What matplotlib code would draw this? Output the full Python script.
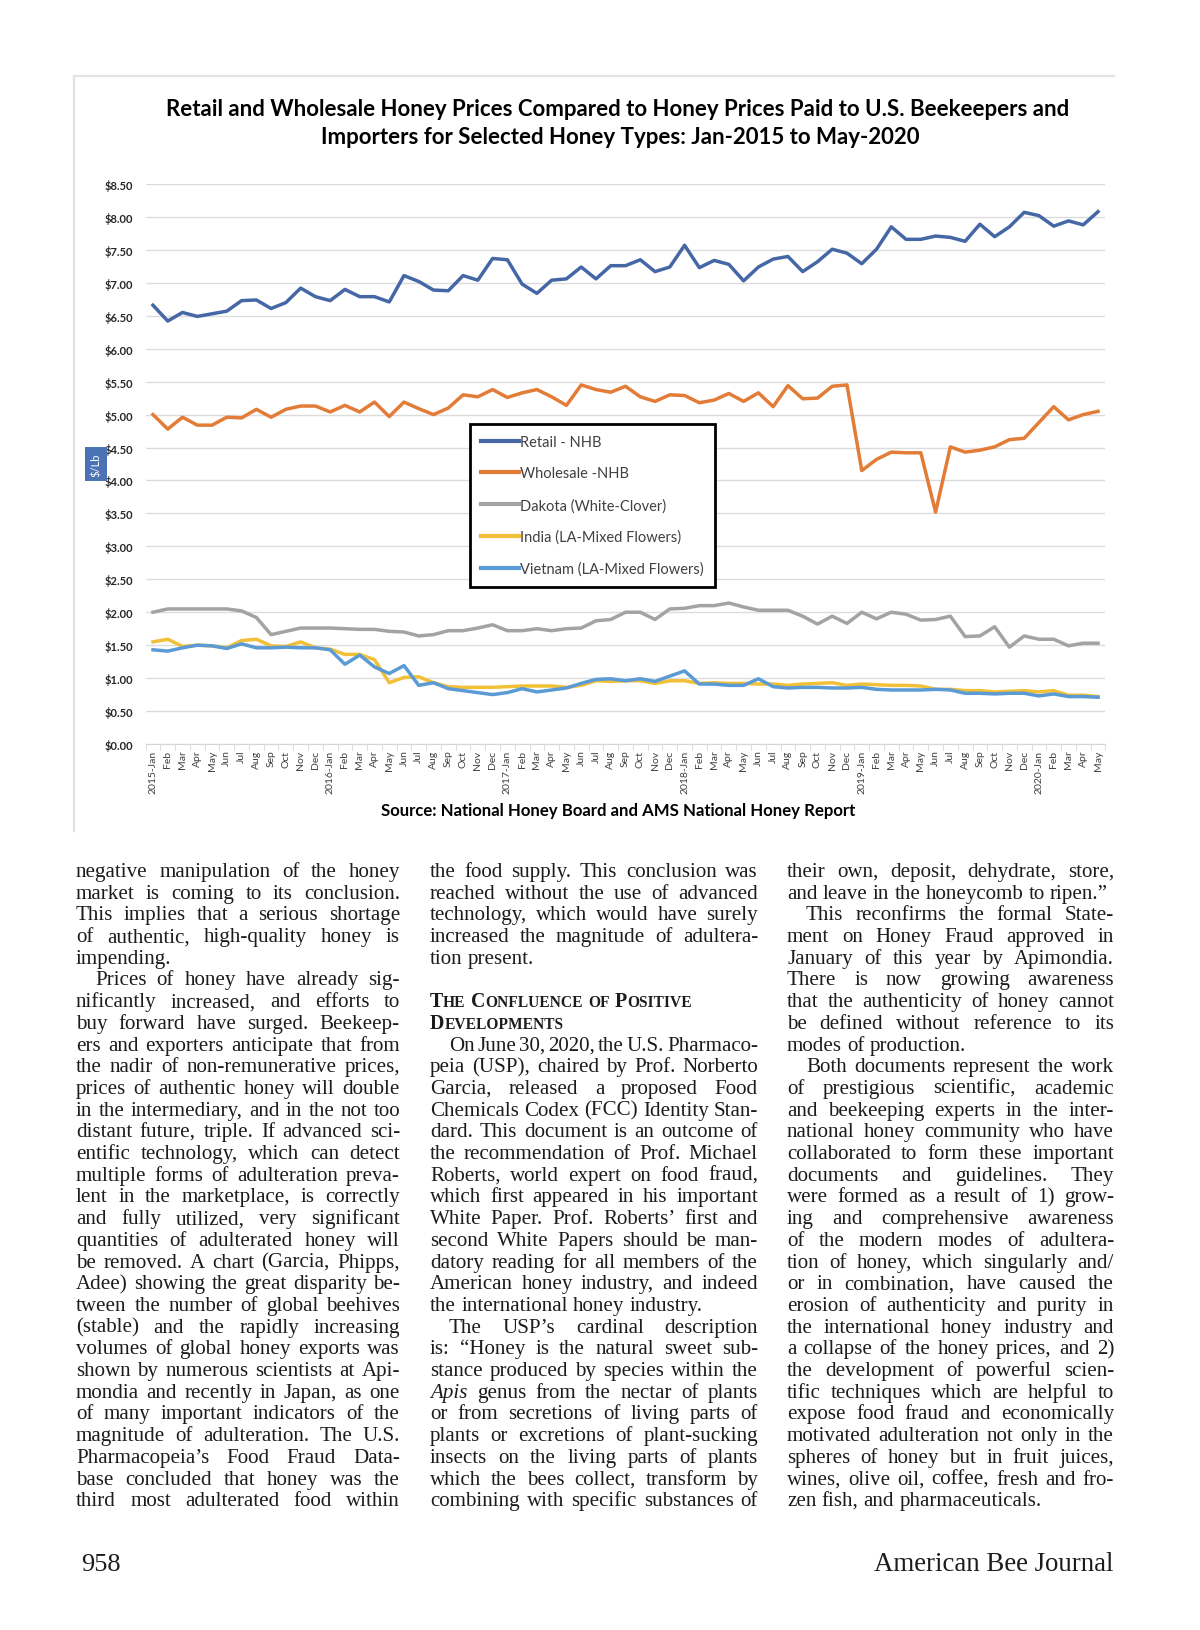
import matplotlib
matplotlib.use("Agg")
import matplotlib.pyplot as plt
from matplotlib.lines import Line2D
import numpy as np

# ---- chart data (US$/lb), Jan-2015 .. May-2020 ----
month_names = ["Jan", "Feb", "Mar", "Apr", "May", "Jun",
               "Jul", "Aug", "Sep", "Oct", "Nov", "Dec"]
years = [2015, 2016, 2017, 2018, 2019, 2020]
n_last_year = 5

retail = [6.66, 6.42, 6.55, 6.49, 6.53, 6.57, 6.73, 6.74, 6.61, 6.70, 6.92, 6.79,
          6.73, 6.90, 6.79, 6.79, 6.71, 7.11, 7.02, 6.89, 6.88, 7.11, 7.04, 7.37,
          7.35, 6.98, 6.84, 7.04, 7.06, 7.24, 7.06, 7.26, 7.26, 7.35, 7.17, 7.24,
          7.57, 7.23, 7.34, 7.28, 7.03, 7.24, 7.36, 7.40, 7.17, 7.32, 7.51, 7.45,
          7.29, 7.51, 7.85, 7.66, 7.66, 7.71, 7.69, 7.63, 7.89, 7.70, 7.85, 8.07,
          8.02, 7.86, 7.94, 7.88, 8.08]
wholesale = [5.00, 4.78, 4.96, 4.84, 4.84, 4.96, 4.95, 5.08, 4.96, 5.08, 5.13, 5.13,
             5.04, 5.14, 5.04, 5.19, 4.97, 5.19, 5.09, 5.00, 5.10, 5.30, 5.27, 5.38,
             5.26, 5.33, 5.38, 5.27, 5.14, 5.45, 5.38, 5.34, 5.43, 5.27, 5.20, 5.30,
             5.29, 5.18, 5.22, 5.32, 5.20, 5.33, 5.12, 5.44, 5.24, 5.25, 5.43, 5.45,
             4.15, 4.32, 4.43, 4.42, 4.42, 3.52, 4.51, 4.43, 4.46, 4.51, 4.62, 4.64,
             4.88, 5.12, 4.92, 5.00, 5.05]
dakota = [2.00, 2.05, 2.05, 2.05, 2.05, 2.05, 2.02, 1.92, 1.66, 1.71, 1.76, 1.76,
          1.76, 1.75, 1.74, 1.74, 1.71, 1.70, 1.64, 1.66, 1.72, 1.72, 1.76, 1.81,
          1.72, 1.72, 1.75, 1.72, 1.75, 1.76, 1.87, 1.89, 2.00, 2.00, 1.89, 2.05,
          2.06, 2.10, 2.10, 2.14, 2.08, 2.03, 2.03, 2.03, 1.94, 1.82, 1.94, 1.83,
          2.00, 1.90, 2.00, 1.97, 1.88, 1.89, 1.94, 1.63, 1.64, 1.78, 1.47, 1.64,
          1.59, 1.59, 1.49, 1.53, 1.53]
india = [1.55, 1.59, 1.48, 1.50, 1.49, 1.46, 1.57, 1.59, 1.49, 1.48, 1.55, 1.46,
         1.44, 1.36, 1.36, 1.28, 0.93, 1.01, 1.02, 0.93, 0.87, 0.86, 0.86, 0.86,
         0.87, 0.88, 0.88, 0.88, 0.86, 0.89, 0.96, 0.95, 0.96, 0.96, 0.92, 0.96,
         0.96, 0.92, 0.93, 0.92, 0.92, 0.91, 0.91, 0.89, 0.91, 0.92, 0.93, 0.89,
         0.91, 0.90, 0.89, 0.89, 0.88, 0.83, 0.83, 0.81, 0.81, 0.79, 0.80, 0.81,
         0.79, 0.81, 0.74, 0.74, 0.72]
vietnam = [1.43, 1.41, 1.46, 1.50, 1.49, 1.45, 1.52, 1.46, 1.46, 1.47, 1.46, 1.46,
           1.43, 1.21, 1.35, 1.17, 1.07, 1.19, 0.89, 0.93, 0.84, 0.81, 0.78, 0.75,
           0.78, 0.84, 0.79, 0.82, 0.85, 0.92, 0.98, 0.99, 0.96, 0.99, 0.95, 1.03,
           1.11, 0.91, 0.91, 0.89, 0.89, 0.99, 0.87, 0.85, 0.86, 0.86, 0.85, 0.85,
           0.86, 0.83, 0.82, 0.82, 0.82, 0.83, 0.82, 0.77, 0.77, 0.76, 0.77, 0.77,
           0.73, 0.76, 0.72, 0.72, 0.71]

series_names = ["Retail - NHB", "Wholesale -NHB", "Dakota (White-Clover)",
                "India (LA-Mixed Flowers)", "Vietnam (LA-Mixed Flowers)"]
series_colors = ["#4667a6", "#e27c37", "#a3a3a3", "#f2c037", "#5b9bd5"]
y_ticks = [0, 0.5, 1, 1.5, 2, 2.5, 3, 3.5, 4, 4.5, 5, 5.5, 6, 6.5, 7, 7.5, 8, 8.5]

title_lines = ["Retail and Wholesale Honey Prices Compared to Honey Prices Paid to U.S. Beekeepers and",
               "Importers for Selected Honey Types: Jan-2015 to May-2020"]
source_text = "Source: National Honey Board and AMS National Honey Report"

# ---- article text (">" = indented first line, "|" = last line of paragraph, "#" = heading) ----
col1 = [
    "negative manipulation of the honey",
    "market is coming to its conclusion.",
    "This implies that a serious shortage",
    "of authentic, high-quality honey is",
    "impending.|",
    ">Prices of honey have already sig-",
    "nificantly increased, and efforts to",
    "buy forward have surged. Beekeep-",
    "ers and exporters anticipate that from",
    "the nadir of non-remunerative prices,",
    "prices of authentic honey will double",
    "in the intermediary, and in the not too",
    "distant future, triple. If advanced sci-",
    "entific technology, which can detect",
    "multiple forms of adulteration preva-",
    "lent in the marketplace, is correctly",
    "and fully utilized, very significant",
    "quantities of adulterated honey will",
    "be removed. A chart (Garcia, Phipps,",
    "Adee) showing the great disparity be-",
    "tween the number of global beehives",
    "(stable) and the rapidly increasing",
    "volumes of global honey exports was",
    "shown by numerous scientists at Api-",
    "mondia and recently in Japan, as one",
    "of many important indicators of the",
    "magnitude of adulteration. The U.S.",
    "Pharmacopeia\u2019s Food Fraud Data-",
    "base concluded that honey was the",
    "third most adulterated food within",
]
col2 = [
    "the food supply. This conclusion was",
    "reached without the use of advanced",
    "technology, which would have surely",
    "increased the magnitude of adultera-",
    "tion present.|",
    "",
    "#The Confluence of Positive",
    "#Developments",
    ">On June 30, 2020, the U.S. Pharmaco-",
    "peia (USP), chaired by Prof. Norberto",
    "Garcia, released a proposed Food",
    "Chemicals Codex (FCC) Identity Stan-",
    "dard. This document is an outcome of",
    "the recommendation of Prof. Michael",
    "Roberts, world expert on food fraud,",
    "which first appeared in his important",
    "White Paper. Prof. Roberts\u2019 first and",
    "second White Papers should be man-",
    "datory reading for all members of the",
    "American honey industry, and indeed",
    "the international honey industry.|",
    ">The USP\u2019s cardinal description",
    "is: \u201cHoney is the natural sweet sub-",
    "stance produced by species within the",
    "*Apis* genus from the nectar of plants",
    "or from secretions of living parts of",
    "plants or excretions of plant-sucking",
    "insects on the living parts of plants",
    "which the bees collect, transform by",
    "combining with specific substances of",
]
col3 = [
    "their own, deposit, dehydrate, store,",
    "and leave in the honeycomb to ripen.\u201d|",
    ">This reconfirms the formal State-",
    "ment on Honey Fraud approved in",
    "January of this year by Apimondia.",
    "There is now growing awareness",
    "that the authenticity of honey cannot",
    "be defined without reference to its",
    "modes of production.|",
    ">Both documents represent the work",
    "of prestigious scientific, academic",
    "and beekeeping experts in the inter-",
    "national honey community who have",
    "collaborated to form these important",
    "documents and guidelines. They",
    "were formed as a result of 1) grow-",
    "ing and comprehensive awareness",
    "of the modern modes of adultera-",
    "tion of honey, which singularly and/",
    "or in combination, have caused the",
    "erosion of authenticity and purity in",
    "the international honey industry and",
    "a collapse of the honey prices, and 2)",
    "the development of powerful scien-",
    "tific techniques which are helpful to",
    "expose food fraud and economically",
    "motivated adulteration not only in the",
    "spheres of honey but in fruit juices,",
    "wines, olive oil, coffee, fresh and fro-",
    "zen fish, and pharmaceuticals.|",
]
page_number = "958"
journal_name = "American Bee Journal"

# ---- page setup ----
W_PX, H_PX = 1200, 1631
fig = plt.figure(figsize=(12, 16.31), dpi=100)
fig.patch.set_facecolor("white")
renderer = fig.canvas.get_renderer()
CHART_FONT = ["Lato", "DejaVu Sans"]
HEAD_FONT = ["Liberation Sans Narrow", "Lato", "DejaVu Sans"]
BODY_FONT = ["Liberation Serif", "DejaVu Serif"]


def fx(px):
    return px / W_PX


def fy(py):
    return 1 - py / H_PX


def width_of(t):
    return t.get_window_extent(renderer).width


def fit_text(s, cx, cy, width, ha="center", family=CHART_FONT, weight="bold", color="black"):
    t = fig.text(fx(cx), fy(cy), s, ha=ha, va="center", fontsize=20,
                 family=family, fontweight=weight, color=color)
    t.set_fontsize(20 * width / width_of(t))
    return t


# chart frame (light border)
fig.add_artist(Line2D([fx(74), fx(74)], [fy(77), fy(832)], color="#e3e3e3", lw=1.6))
fig.add_artist(Line2D([fx(74), fx(1114)], [fy(77), fy(77)], color="#e3e3e3", lw=1.6))

# title
t1 = fit_text(title_lines[0], 618, 110, 902, family=HEAD_FONT)
fig.text(fx(620), fy(138), title_lines[1], ha="center", va="center",
         fontsize=t1.get_fontsize(), family=HEAD_FONT, fontweight="bold")

# ---- chart ----
labels = []
for yr in years:
    n = 12 if yr != years[-1] else n_last_year
    for k in range(n):
        labels.append(f"{yr}-{month_names[k]}" if k == 0 else month_names[k])
x = np.arange(len(labels))

ax = fig.add_axes([fx(145.6), fy(745), (1105.4 - 145.6) / W_PX, (745 - 185) / H_PX])
for vals, name, col in zip([retail, wholesale, dakota, india, vietnam], series_names, series_colors):
    ax.plot(x, vals, color=col, lw=2.5, label=name, solid_joinstyle="round")

ax.set_xlim(-0.5, len(labels) - 0.5)
ax.set_ylim(0, 8.5)
ax.set_yticks(y_ticks)
ax.set_yticklabels([f"${v:.2f}" for v in y_ticks], fontsize=8, fontweight="bold",
                   family=CHART_FONT, color="#262626")
ax.set_xticks(x)
ax.set_xticklabels(labels, rotation=90, fontsize=7.5, family=CHART_FONT, color="#404040")
ax.set_xticks(np.arange(-0.5, len(labels), 1), minor=True)
ax.tick_params(axis="y", length=0, pad=9)
ax.tick_params(axis="x", which="major", length=0, pad=4)
ax.tick_params(axis="x", which="minor", length=4, color="#d4d4d4")
ax.grid(axis="y", color="#dcdcdc", lw=1)
ax.set_axisbelow(True)
for s in ["top", "right", "left"]:
    ax.spines[s].set_visible(False)
ax.spines["bottom"].set_color("#d4d4d4")

leg = ax.legend(loc="upper left", bbox_to_anchor=(fx(470), fy(425)), bbox_transform=fig.transFigure,
                borderaxespad=0, frameon=True, fancybox=False, edgecolor="black",
                prop={"family": CHART_FONT, "size": 10.5}, handlelength=2.6, handletextpad=0.1,
                labelspacing=1.2, borderpad=0.75, framealpha=1)
leg.get_frame().set_linewidth(2)
for t in leg.get_texts():
    t.set_color("#404040")
for h in leg.get_lines():
    h.set_linewidth(3)

fig.text(fx(96), fy(465), "$/Lb", rotation=90, ha="center", va="center", fontsize=8,
         family=CHART_FONT, color="white",
         bbox=dict(boxstyle="square,pad=0.5", facecolor="#4a72b4", edgecolor="none"))

fit_text(source_text, 618, 811, 474, family=HEAD_FONT)

# ---- article columns ----
LEAD = 21.7
BASE0 = 877
INDENT = 19
TEXT_COLOR = "#1c1c1c"


def parse(line):
    indent = line.startswith(">")
    if indent:
        line = line[1:]
    last = line.endswith("|")
    if last:
        line = line[:-1]
    words = []
    for w in line.split():
        if w.startswith("*") and w.endswith("*"):
            words.append((w[1:-1], "italic"))
        else:
            words.append((w, "normal"))
    return indent, last, words


columns = [(col1, 76, 400), (col2, 430, 758), (col3, 787, 1114)]

# pick a body font size so that the tightest justified line still fits
probe = 14.0
scale = 10.0
for lines, x0, x1 in columns:
    for line in lines:
        if not line or line.startswith("#"):
            continue
        indent, last, words = parse(line)
        tot = 0
        for w, st in words:
            t = fig.text(0, 0, w, fontsize=probe, family=BODY_FONT, style=st)
            tot += width_of(t)
            t.remove()
        need = tot + (len(words) - 1) * 0.12 * probe * 100 / 72 + (INDENT if indent else 0)
        scale = min(scale, (x1 - x0) / need)
body_fs = min(probe * scale, 16.2)
space_px = 0.25 * body_fs * 100 / 72


def draw_smallcaps(s, x, y, fs):
    for word in s.split():
        runs = []
        for ch in word:
            big = ch.isupper()
            if runs and runs[-1][1] == big:
                runs[-1][0] += ch.upper()
            else:
                runs.append([ch.upper(), big])
        for txt, big in runs:
            t = fig.text(fx(x), fy(y), txt, fontsize=fs if big else fs * 0.78, family=BODY_FONT,
                         fontweight="bold", va="baseline", ha="left", color=TEXT_COLOR)
            x += width_of(t)
        x += space_px


for lines, x0, x1 in columns:
    for k, line in enumerate(lines):
        if not line:
            continue
        yb = BASE0 + k * LEAD
        if line.startswith("#"):
            draw_smallcaps(line[1:], x0, yb, body_fs * 0.95)
            continue
        indent, last, words = parse(line)
        xs = x0 + (INDENT if indent else 0)
        texts = [fig.text(0, fy(yb), w, fontsize=body_fs, family=BODY_FONT, style=st,
                          va="baseline", ha="left", color=TEXT_COLOR) for w, st in words]
        widths = [width_of(t) for t in texts]
        if last or len(texts) == 1:
            gap = space_px
        else:
            gap = (x1 - xs - sum(widths)) / (len(texts) - 1)
        pos = xs
        for t, w in zip(texts, widths):
            t.set_x(fx(pos))
            pos += w + gap

# footer
fig.text(fx(81), fy(1565), page_number, ha="left", va="center", fontsize=19,
         family=BODY_FONT, color=TEXT_COLOR)
fit_text(journal_name, 1113, 1565, 241, ha="right", family=BODY_FONT, weight="normal",
         color=TEXT_COLOR)

fig.savefig("out.png", dpi=100, facecolor="white")
